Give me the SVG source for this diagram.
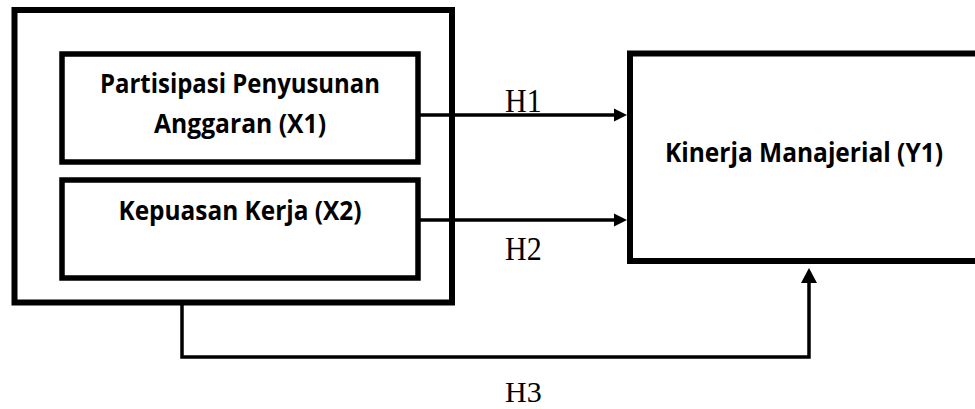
<svg xmlns="http://www.w3.org/2000/svg" width="975" height="409" viewBox="0 0 975 409">
  <style>
    .box { fill: #fff; stroke: #000; }
    .outer { stroke-width: 6; }
    .inner { stroke-width: 5.5; }
    .lbl { font-family: "Open Sans", "Liberation Sans", sans-serif; font-weight: bold; font-size: 26px; fill: #000; text-anchor: middle; }
    .h { font-family: "Liberation Serif", "Times New Roman", serif; font-size: 30px; fill: #000; }
    .conn { fill: none; stroke: #000; stroke-width: 3.5; }
  </style>
  <defs>
    <marker id="arr" markerUnits="userSpaceOnUse" markerWidth="13" markerHeight="14" refX="2" refY="7" orient="auto">
      <path d="M0,0.5 L13,7 L0,13.5 z" fill="#000"/>
    </marker>
    <marker id="arr2" markerUnits="userSpaceOnUse" markerWidth="15" markerHeight="16" refX="2" refY="8" orient="auto">
      <path d="M0,0 L15,8 L0,16 z" fill="#000"/>
    </marker>
  </defs>
  <rect width="975" height="409" fill="#fff"/>

  <g id="group-x">
    <rect class="box outer" x="14.5" y="10" width="437.5" height="292.5"/>
  </g>
  <g id="node-x1">
    <rect class="box inner" x="62" y="54" width="356" height="108"/>
    <text class="lbl" x="240" y="93" textLength="280" lengthAdjust="spacingAndGlyphs">Partisipasi Penyusunan</text>
    <text class="lbl" x="240" y="133" textLength="172" lengthAdjust="spacingAndGlyphs">Anggaran (X1)</text>
  </g>
  <g id="node-x2">
    <rect class="box inner" x="62" y="180" width="356" height="98"/>
    <text class="lbl" x="240" y="220" textLength="243" lengthAdjust="spacingAndGlyphs">Kepuasan Kerja (X2)</text>
  </g>
  <g id="node-y1">
    <rect class="box outer" x="630" y="53.5" width="360" height="207.5"/>
    <text class="lbl" x="804" y="162" textLength="278" lengthAdjust="spacingAndGlyphs">Kinerja Manajerial (Y1)</text>
  </g>

  <g id="connectors">
    <line class="conn" x1="418" y1="115" x2="616" y2="115" marker-end="url(#arr)"/>
    <line class="conn" x1="418" y1="220" x2="616" y2="220" marker-end="url(#arr)"/>
    <path class="conn" d="M182,305 V357 H809 V281" marker-end="url(#arr2)"/>
    <text class="h" x="505" y="112" transform="translate(0 112) scale(1 1.1) translate(0 -112)">H1</text>
    <text class="h" x="505" y="260" transform="translate(0 260) scale(1 1.1) translate(0 -260)">H2</text>
    <text class="h" x="505" y="402">H3</text>
  </g>
</svg>
